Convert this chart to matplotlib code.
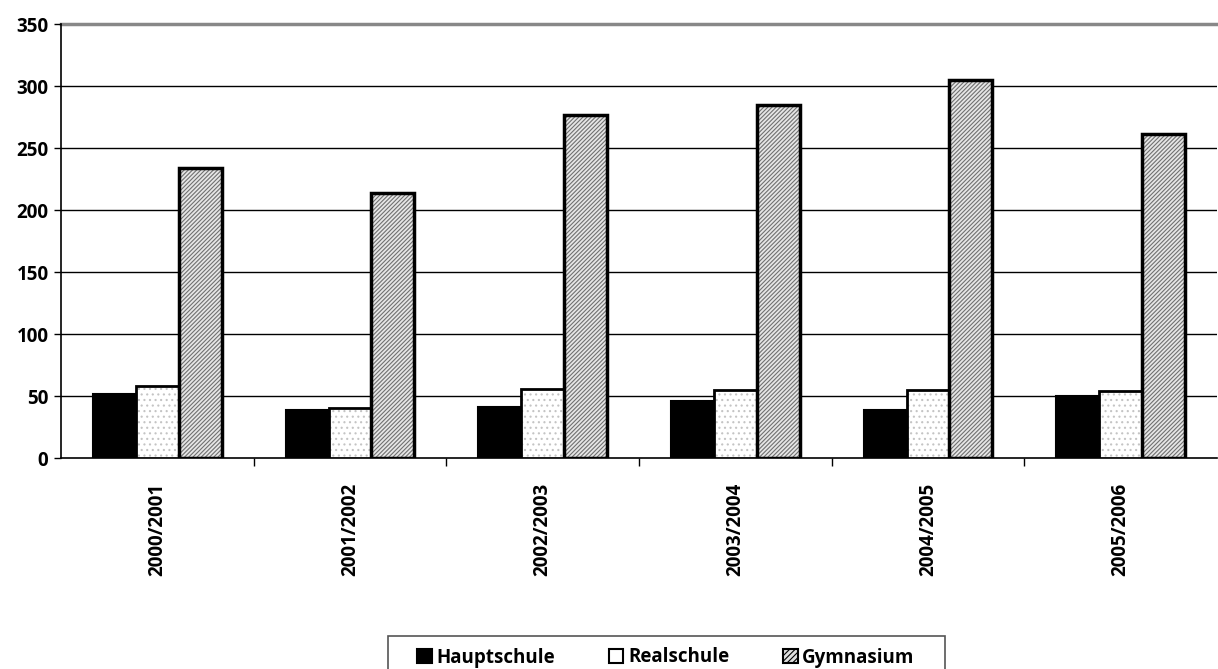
import matplotlib
matplotlib.use("Agg")
import matplotlib.pyplot as plt
import matplotlib.patches as mpatches
import numpy as np

plt.rcParams['font.family'] = ['Open Sans', 'DejaVu Sans']
plt.rcParams['font.weight'] = 'bold'
plt.rcParams['hatch.linewidth'] = 0.8

categories = ["2000/2001", "2001/2002", "2002/2003", "2003/2004", "2004/2005", "2005/2006"]
hauptschule = [52, 39, 41, 46, 39, 50]
realschule = [58, 40, 56, 55, 55, 54]
gymnasium = [234, 214, 277, 285, 305, 261]
series_names = ["Hauptschule", "Realschule", "Gymnasium"]
yticks = [0, 50, 100, 150, 200, 250, 300, 350]

FS = 13.5
W, H = 1218, 669

fig = plt.figure(figsize=(12.18, 6.69), dpi=100)
ax = fig.add_axes([61/W, 1-458/H, 1156/W, 434/H])

x = np.arange(len(categories))
w = 0.223

# Hauptschule: solid black
ax.bar(x - w, hauptschule, w, color='black', edgecolor='black', linewidth=1.5, zorder=3)
# Realschule: white with light dots
ax.bar(x, realschule, w, color='white', edgecolor='#c4c4c4', hatch='...', linewidth=0, zorder=3)
ax.bar(x, realschule, w, fill=False, edgecolor='black', linewidth=2, zorder=4)
# Gymnasium: light gray with dense diagonal hatch
ax.bar(x + w, gymnasium, w, color='#e6e6e6', edgecolor='#707070', hatch='////////', linewidth=0, zorder=3)
ax.bar(x + w, gymnasium, w, fill=False, edgecolor='black', linewidth=2.5, zorder=4)

ax.set_xlim(-0.5, len(categories) - 0.5)
ax.set_ylim(0, 350)
ax.set_yticks(yticks)
ax.set_yticklabels([str(v) for v in yticks], fontsize=FS, fontweight='bold')
for v in yticks[1:-1]:
    ax.axhline(v, color='black', linewidth=1, zorder=1)
ax.axhline(350, color='#888888', linewidth=2.5, zorder=1, clip_on=False)

ax.set_xticks(x)
ax.set_xticklabels(categories, rotation=90, fontsize=FS, fontweight='bold')
ax.tick_params(axis='x', which='major', length=0, pad=18)
ax.set_xticks(np.arange(0.5, len(categories) - 0.5, 1), minor=True)
ax.tick_params(axis='x', which='minor', length=6, width=1, color='black', direction='out')
ax.tick_params(axis='y', length=5, width=1, direction='out', pad=4)

for s in ['top', 'right']:
    ax.spines[s].set_visible(False)
ax.spines['left'].set_linewidth(1.2)
ax.spines['bottom'].set_linewidth(1.2)

handles = [
    mpatches.Patch(facecolor='black', edgecolor='black', linewidth=1.5, label=series_names[0]),
    mpatches.Patch(facecolor='white', edgecolor='black', linewidth=1.5, label=series_names[1]),
    mpatches.Patch(facecolor='#dddddd', edgecolor='black', linewidth=1.5, hatch='//////', label=series_names[2]),
]
leg = fig.legend(handles=handles, loc='upper center', bbox_to_anchor=(666/W, 1-640/H),
                 ncol=3, frameon=False,
                 prop={'size': FS, 'weight': 'bold'}, handlelength=0.75, handleheight=0.75,
                 handletextpad=0.25, columnspacing=2.9, borderpad=0.4, borderaxespad=0)

frame = mpatches.Rectangle((388/W, 1-690/H), (945-388)/W, 54/H, transform=fig.transFigure,
                           fill=False, edgecolor='#555555', linewidth=1.2, clip_on=False)
fig.add_artist(frame)

fig.savefig("out.png", dpi=100)
